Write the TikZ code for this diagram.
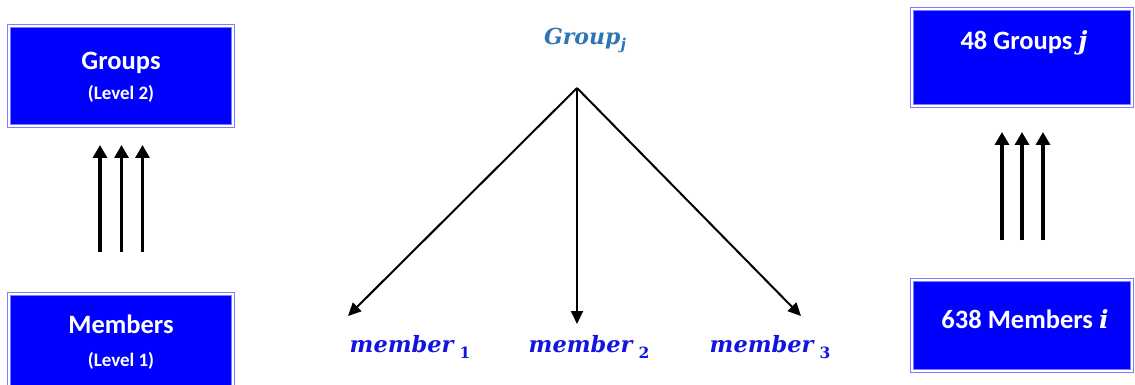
\documentclass[tikz,border=0pt]{standalone}
\usepackage{fontspec}
\setmainfont{Carlito}
\newfontfamily\mathser{DejaVu Serif}
\usetikzlibrary{arrows.meta}
\definecolor{boxblue}{RGB}{0,0,255}
\definecolor{rimblue}{RGB}{125,125,255}
\definecolor{groupblue}{RGB}{46,117,182}
\definecolor{memblue}{RGB}{20,20,225}
\tikzset{
  levelbox/.style={fill=boxblue, draw=rimblue, double=white, line width=1.2pt,
    double distance=1.3pt, inner sep=0pt},
  boxtext/.style={text=white, font=\bfseries\fontsize{26.5}{29}\selectfont, anchor=base, inner sep=0pt},
  leveltext/.style={text=white, font=\bfseries\fontsize{19}{22}\selectfont, anchor=base, inner sep=0pt},
  uparrow/.style={line width=3.4pt, -{Triangle[length=13pt,width=14pt]}},
  tiearrow/.style={line width=2pt, -{Triangle[length=13pt,width=12pt]}},
  memtext/.style={text=memblue, anchor=base, inner sep=0pt}
}
\newcommand{\bivar}[1]{{\mathser\bfseries\itshape #1}}
\newcommand{\memlabel}[1]{\bivar{\fontsize{22.5}{24}\selectfont member}\hspace{6pt}\raisebox{-6pt}{\mathser\bfseries\fontsize{15.5}{16}\selectfont #1}}
\begin{document}
\begin{tikzpicture}[x=1pt,y=-1pt]
\useasboundingbox (0,0) rectangle (1135,385);

% Left column: two levels
\node[levelbox, minimum width=224pt, minimum height=100pt] (grp) at (121,76) {};
\node[levelbox, minimum width=224pt, minimum height=96pt] (mem) at (121,342) {};
\node[boxtext] (grpt) at (121,70) {Groups};
\node[leveltext] (grpl) at (121,100) {(Level 2)};
\node[boxtext] (memt) at (121,333) {Members};
\node[leveltext] (meml) at (121,366) {(Level 1)};

\foreach \x [count=\k] in {100,121.5,142.5} {
  \coordinate (la\k) at (\x,252);
  \coordinate (lb\k) at (\x,145);
  \draw[uparrow] (la\k) -- (lb\k);
}

% Centre: one group and its members
\node[text=groupblue, anchor=base, inner sep=0pt] (gj) at (585,45)
  {\bivar{\fontsize{22}{24}\selectfont Group}\raisebox{-5pt}{\bivar{\fontsize{15}{16}\selectfont j}}};
\coordinate (apex) at (577,88);
\coordinate (t1) at (348,316);
\coordinate (t2) at (577,324);
\coordinate (t3) at (801,316);
\draw[tiearrow] (apex) -- (t1);
\draw[tiearrow] (apex) -- (t2);
\draw[tiearrow] (apex) -- (t3);
\node[memtext] (m1) at (410,352) {\memlabel{1}};
\node[memtext] (m2) at (589,352) {\memlabel{2}};
\node[memtext] (m3) at (770,352) {\memlabel{3}};

% Right column: sample sizes
\node[levelbox, minimum width=220pt, minimum height=97pt] (grpr) at (1022,57.5) {};
\node[levelbox, minimum width=220pt, minimum height=91pt] (memr) at (1022,325.5) {};
\node[boxtext] (grprt) at (1024,50) {48 Groups \bivar{\fontsize{25}{27}\selectfont j}};
\node[boxtext] (memrt) at (1025,328) {638 Members \bivar{\fontsize{25}{27}\selectfont i}};

\foreach \x [count=\k] in {1002,1022,1043} {
  \coordinate (ra\k) at (\x,240);
  \coordinate (rb\k) at (\x,132);
  \draw[uparrow] (ra\k) -- (rb\k);
}
\end{tikzpicture}
\end{document}
